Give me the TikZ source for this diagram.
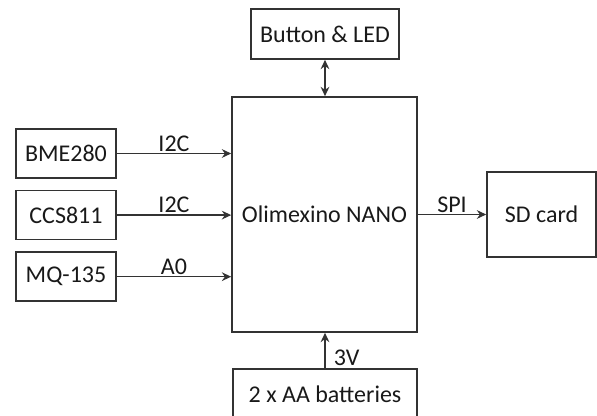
\documentclass[tikz,border=0pt]{standalone}
\usepackage{fontspec}
\setmainfont{Carlito}
\usepackage{tikz}
\usetikzlibrary{positioning,arrows.meta}

\begin{document}
\begin{tikzpicture}[
        x=0.75pt, y=-0.75pt,
        font=\fontsize{18}{21}\selectfont,
        block/.style={rectangle, draw=black!80, line width=1.2pt, inner sep=0pt, align=center, text=black!90},
        sensor/.style={block, minimum width=75pt, minimum height=36.75pt},
        link/.style={-{Stealth[length=7pt,width=6.5pt]}, line width=1.2pt, draw=black!80},
        lbl/.style={text=black!90, inner sep=1pt}
      ]

      \useasboundingbox (0,0) rectangle (597,416);

      % Microcontroller
      \node[block, minimum width=138.75pt, minimum height=176.25pt] (mcu) at (324.5, 214.5) {Olimexino NANO};

      % Button and LED
      \node[block, minimum width=111pt, minimum height=37.5pt] (btn) at (325, 34) {Button \& LED};

      % Sensors
      \node[sensor] (bme) at (66, 153.5) {BME280};
      \node[sensor, below=8.25pt of bme] (ccs) {CCS811};
      \node[sensor, below=8.25pt of ccs] (mq) {MQ-135};

      % Storage
      \node[block, minimum width=81.75pt, minimum height=63.75pt] (sd) at (541.5, 214.5) {SD card};

      % Power
      \node[block, minimum width=138pt, minimum height=38.25pt] (bat) at (325, 394.5) {2 x AA batteries};

      % Connections
      \draw[link] (bme.east) -- (bme.east -| mcu.west) node[lbl, midway, above] {I2C};
      \draw[link] (ccs.east) -- (ccs.east -| mcu.west) node[lbl, midway, above] {I2C};
      \draw[link] (mq.east) -- (mq.east -| mcu.west) node[lbl, midway, above] {A0};
      \draw[link] (sd.west -| mcu.east) -- (sd.west) node[lbl, midway, above] {SPI};
      \draw[link, {Stealth[length=7pt,width=6.5pt]}-{Stealth[length=7pt,width=6.5pt]}] (btn.south) -- (btn.south |- mcu.north);
      \draw[link] (bat.north) -- (bat.north |- mcu.south) node[lbl, pos=0.3, right=5pt] {3V};

    \end{tikzpicture}
\end{document}
